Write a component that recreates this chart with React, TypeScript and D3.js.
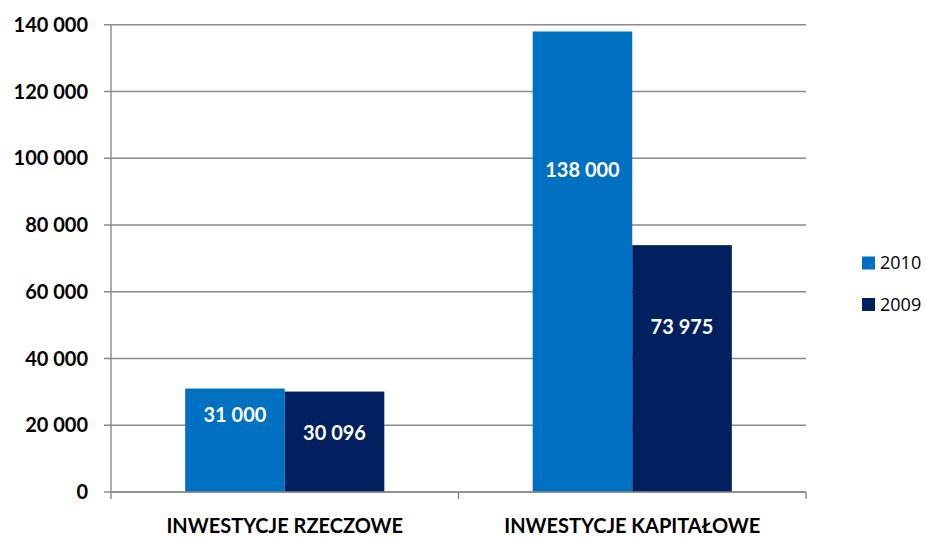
import React from "react";
import * as d3 from "d3";

// Investment categories and yearly values
const categories = ["INWESTYCJE RZECZOWE", "INWESTYCJE KAPITAŁOWE"];
const seriesNames = ["2010", "2009"];
const values2010 = [31000, 138000];
const values2009 = [30096, 73975];
const seriesColors = ["#0070C0", "#002060"];
// where each value label sits, as a fraction of its bar height
const labelAt2010 = [0.75, 0.7];
const labelAt2009 = [0.59, 0.67];
const yTicks = [0, 20000, 40000, 60000, 80000, 100000, 120000, 140000];

const W = 926;
const H = 537;
const margin = { left: 111, right: 120, top: 25, bottom: 45 };

const fmt = (v: number) =>
  d3.format(",")(v).replace(/,/g, " ");

export default function App() {
  const plotRight = 806;
  const y = d3.scaleLinear().domain([0, 140000]).range([492, 24.8]);
  const x0 = d3
    .scaleBand<string>()
    .domain(categories)
    .range([margin.left, plotRight])
    .paddingInner(0)
    .paddingOuter(0);
  const x1 = d3
    .scaleBand<string>()
    .domain(seriesNames)
    .range([0, x0.bandwidth()])
    .paddingInner(0)
    .paddingOuter(0.745);

  const series = [
    { name: seriesNames[0], values: values2010, labelAt: labelAt2010, color: seriesColors[0] },
    { name: seriesNames[1], values: values2009, labelAt: labelAt2009, color: seriesColors[1] },
  ];

  const bold = "'Lato', 'DejaVu Sans', sans-serif";
  const catBoundaries = [margin.left, ...categories.map((c) => (x0(c) as number) + x0.bandwidth())];

  return (
    <svg
      width={W}
      height={H}
      style={{ position: "absolute", left: 0, top: 0, background: "#fff", display: "block" }}
    >
      {/* horizontal gridlines and y ticks */}
      {yTicks.map((t) => (
        <g key={t}>
          <line
            x1={margin.left - 7}
            x2={plotRight}
            y1={y(t)}
            y2={y(t)}
            stroke="#8a8a8a"
            strokeWidth={1.4}
          />
          <text
            x={88}
            y={y(t)}
            dy="0.36em"
            textAnchor="end"
            fontFamily={bold}
            fontWeight={700}
            fontSize={20}
            fill="#000"
          >
            {fmt(t)}
          </text>
        </g>
      ))}

      {/* bars */}
      {series.map((s) =>
        categories.map((c, i) => {
          const bx = (x0(c) as number) + (x1(s.name) as number);
          const v = s.values[i];
          return (
            <rect
              key={s.name + c}
              x={bx}
              y={y(v)}
              width={x1.bandwidth()}
              height={y(0) - y(v)}
              fill={s.color}
            />
          );
        })
      )}

      {/* value labels */}
      {series.map((s) =>
        categories.map((c, i) => {
          const bx = (x0(c) as number) + (x1(s.name) as number) + x1.bandwidth() / 2;
          const v = s.values[i];
          return (
            <text
              key={"l" + s.name + c}
              x={bx}
              y={y(v * s.labelAt[i])}
              dy="0.36em"
              textAnchor="middle"
              fontFamily={bold}
              fontWeight={700}
              fontSize={20}
              fill="#fff"
            >
              {fmt(v)}
            </text>
          );
        })
      )}

      {/* axes */}
      <line x1={margin.left} x2={margin.left} y1={y(140000)} y2={y(0)} stroke="#8a8a8a" strokeWidth={1.4} />
      <line x1={margin.left} x2={plotRight} y1={y(0)} y2={y(0)} stroke="#8a8a8a" strokeWidth={1.4} />
      {catBoundaries.map((bx, i) => (
        <line key={i} x1={bx} x2={bx} y1={y(0)} y2={y(0) + 7} stroke="#8a8a8a" strokeWidth={1.4} />
      ))}

      {/* category labels */}
      {categories.map((c) => (
        <text
          key={c}
          x={(x0(c) as number) + x0.bandwidth() / 2}
          y={532.5}
          textAnchor="middle"
          fontFamily={bold}
          fontWeight={700}
          fontSize={20}
          fill="#000"
        >
          {c}
        </text>
      ))}

      {/* legend */}
      {series.map((s, i) => (
        <g key={"lg" + s.name} transform={`translate(862, ${256.5 + i * 41.5})`}>
          <rect x={0} y={0} width={13} height={13} fill={s.color} />
          <text
            x={18}
            y={6.5}
            dy="0.36em"
            fontFamily="'Open Sans', 'Liberation Sans', sans-serif"
            fontSize={18}
            fill="#000"
          >
            {s.name}
          </text>
        </g>
      ))}
    </svg>
  );
}
